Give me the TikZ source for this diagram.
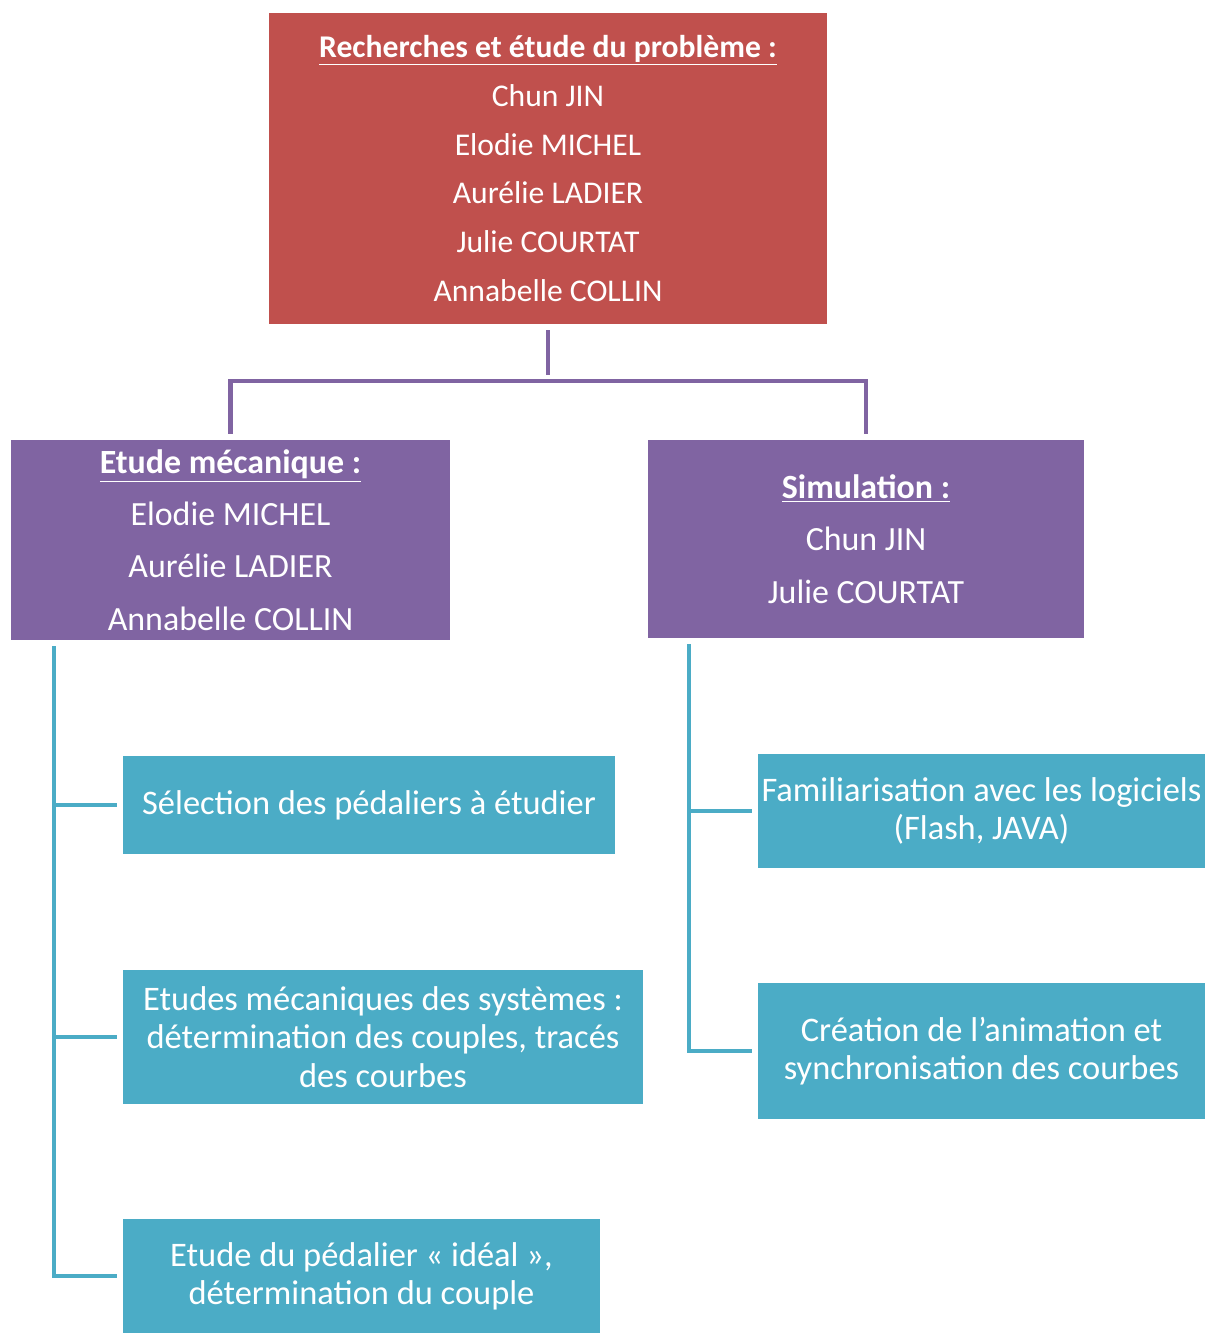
\documentclass[tikz,border=0pt]{standalone}
\usepackage{fontspec}
\setmainfont{Carlito}
\usepackage{tikz}
\usetikzlibrary{calc}

\definecolor{rougebox}{HTML}{C0504D}
\definecolor{violetbox}{HTML}{8064A2}
\definecolor{bleubox}{HTML}{4BACC6}

\begin{document}
\begin{tikzpicture}[x=0.02cm, y=-0.02cm,
    chef/.style={fill=rougebox, text=white, align=center, inner sep=0pt,
        minimum width=558*0.02cm, minimum height=311*0.02cm,
        font=\fontsize{18}{27.8}\selectfont},
    equipe/.style={fill=violetbox, text=white, align=center, inner sep=0pt,
        minimum height=200*0.02cm, font=\fontsize{19.3}{29.8}\selectfont},
    tache/.style={fill=bleubox, text=white, align=center, inner sep=0pt,
        font=\fontsize{19.6}{21.8}\selectfont},
    violien/.style={violetbox, line width=2.8pt, shorten <=3.4pt, shorten >=3.4pt},
    bleulien/.style={bleubox, line width=2.3pt}]

    % === Cadre de la page ===
    \useasboundingbox (0,0) rectangle (1205,1334);

    % === 1. Responsable du projet ===
    \node[chef] (recherche) at (548,168.5)
        {\textbf{\underline{Recherches et étude du problème :}}\\Chun JIN\\Elodie MICHEL\\Aurélie LADIER\\Julie COURTAT\\Annabelle COLLIN};

    % === 2. Les deux équipes ===
    \node[equipe, minimum width=439*0.02cm] (meca) at (230.5,540)
        {\textbf{\underline{Etude mécanique :}}\\Elodie MICHEL\\Aurélie LADIER\\Annabelle COLLIN};
    \node[equipe, minimum width=436*0.02cm, minimum height=198*0.02cm] (simu) at (866,539)
        {\textbf{\underline{Simulation :}}\\Chun JIN\\Julie COURTAT};

    % Liaisons violettes
    \coordinate (fourche) at (548,381);
    \draw[violien] (recherche.south) -- (fourche);
    \draw[violien] (meca.north) |- (fourche) -| (simu.north);

    % === 3. Tâches de l'étude mécanique ===
    \node[tache, minimum width=492*0.02cm, minimum height=98*0.02cm] (selection) at (369,805)
        {Sélection des pédaliers à étudier};
    \node[tache, minimum width=520*0.02cm, minimum height=134*0.02cm] (systemes) at (383,1037)
        {Etudes mécaniques des systèmes :\\détermination des couples, tracés\\des courbes};
    \node[tache, minimum width=477*0.02cm, minimum height=114*0.02cm] (ideal) at (361.5,1276)
        {Etude du pédalier « idéal »,\\détermination du couple};

    % Liaisons bleues (gauche)
    \coordinate (troncg) at (54,646);
    \draw[bleulien, shorten >=3.4pt] (troncg) |- (ideal.west);
    \draw[bleulien, shorten >=3.4pt] (troncg |- selection.west) -- (selection.west);
    \draw[bleulien, shorten >=3.4pt] (troncg |- systemes.west) -- (systemes.west);

    % === 4. Tâches de la simulation ===
    \node[tache, minimum width=447*0.02cm, minimum height=114*0.02cm] (logiciels) at (981.5,811)
        {Familiarisation avec les logiciels\\(Flash, JAVA)};
    \node[tache, minimum width=447*0.02cm, minimum height=136*0.02cm] (animation) at (981.5,1051)
        {Création de l’animation et\\synchronisation des courbes};

    % Liaisons bleues (droite)
    \coordinate (troncd) at (689,644);
    \draw[bleulien, shorten >=3.4pt] (troncd) |- (animation.west);
    \draw[bleulien, shorten >=3.4pt] (troncd |- logiciels.west) -- (logiciels.west);

\end{tikzpicture}
\end{document}
